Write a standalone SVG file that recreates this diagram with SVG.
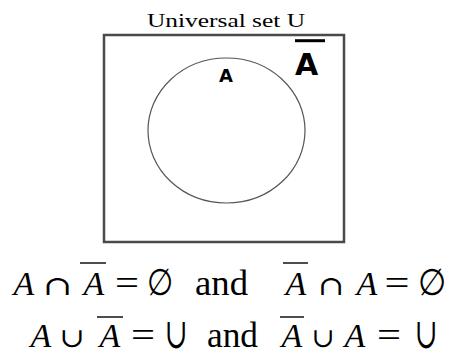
<svg xmlns="http://www.w3.org/2000/svg" width="450" height="354" viewBox="0 0 450 354">
<style>
.t{font-family:"Liberation Serif","Times New Roman",serif;fill:#000}
.i{font-family:"Liberation Serif","Times New Roman",serif;font-style:italic;font-size:34px;fill:#000;text-anchor:middle}
.s{font-family:"DejaVu Serif","Liberation Serif",serif;fill:#000;text-anchor:middle}
.b{font-family:"DejaVu Sans","Liberation Sans",sans-serif;font-weight:bold;fill:#000;text-anchor:middle}
.bar{stroke:#000;stroke-width:1.4}
</style>
<rect width="450" height="354" fill="#fff"/>
<g id="title"><text class="t" x="147" y="27" font-size="18" textLength="158" lengthAdjust="spacingAndGlyphs">Universal set U</text></g>
<g id="universe">
<rect x="104" y="35" width="240" height="207" fill="none" stroke="#4a4a4a" stroke-width="2.5"/>
<text class="b" x="306.5" y="75" font-size="30">A</text>
<line x1="295" y1="40.7" x2="325" y2="40.7" stroke="#000" stroke-width="3"/>
</g>
<g id="setA">
<ellipse cx="226.5" cy="130.5" rx="78.5" ry="72.5" fill="none" stroke="#555" stroke-width="1.2"/>
<text class="b" x="226" y="82" font-size="18">A</text>
</g>
<g id="eq1">
<text class="i" x="24" y="295">A</text>
<text class="s" x="57.5" y="295" font-size="27" textLength="29" lengthAdjust="spacingAndGlyphs">∩</text>
<text class="i" x="94" y="295">A</text>
<line class="bar" x1="80" y1="263" x2="106" y2="263"/>
<text class="t" x="127" y="295" font-size="36" text-anchor="middle" textLength="24" lengthAdjust="spacingAndGlyphs">=</text>
<text class="s" x="160" y="295" font-size="37" textLength="26" lengthAdjust="spacingAndGlyphs">∅</text>
<text class="t" x="195" y="295" font-size="36" textLength="53" lengthAdjust="spacingAndGlyphs">and</text>
<text class="i" x="296" y="295">A</text>
<line class="bar" x1="283" y1="263" x2="308" y2="263"/>
<text class="s" x="331" y="295" font-size="27" textLength="26" lengthAdjust="spacingAndGlyphs">∩</text>
<text class="i" x="367" y="295">A</text>
<text class="t" x="397" y="295" font-size="36" text-anchor="middle" textLength="25" lengthAdjust="spacingAndGlyphs">=</text>
<text class="s" x="432" y="295" font-size="37" textLength="28" lengthAdjust="spacingAndGlyphs">∅</text>
</g>
<g id="eq2">
<text class="i" x="41" y="347">A</text>
<text class="s" x="72" y="347" font-size="27" textLength="25" lengthAdjust="spacingAndGlyphs">∪</text>
<text class="i" x="110" y="347">A</text>
<line class="bar" x1="97" y1="317" x2="123" y2="317"/>
<text class="t" x="143" y="347" font-size="36" text-anchor="middle" textLength="24" lengthAdjust="spacingAndGlyphs">=</text>
<text class="s" x="176" y="348" font-size="42" textLength="23" lengthAdjust="spacingAndGlyphs">∪</text>
<text class="t" x="207" y="347" font-size="36" textLength="51" lengthAdjust="spacingAndGlyphs">and</text>
<text class="i" x="292" y="347">A</text>
<line class="bar" x1="280" y1="317" x2="304" y2="317"/>
<text class="s" x="323" y="347" font-size="27" textLength="23" lengthAdjust="spacingAndGlyphs">∪</text>
<text class="i" x="355" y="347">A</text>
<text class="t" x="389" y="347" font-size="36" text-anchor="middle" textLength="24" lengthAdjust="spacingAndGlyphs">=</text>
<text class="s" x="426" y="348" font-size="42" textLength="23" lengthAdjust="spacingAndGlyphs">∪</text>
</g>
</svg>
